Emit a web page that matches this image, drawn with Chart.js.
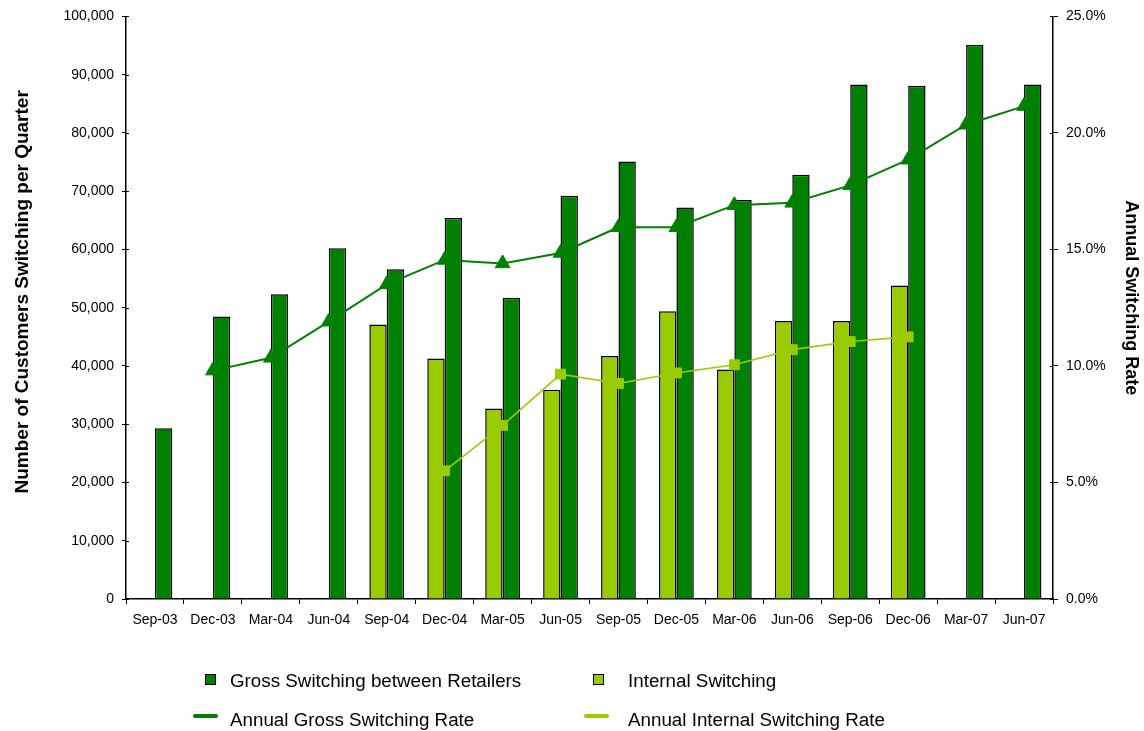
<!DOCTYPE html>
<html>
<head>
<meta charset="utf-8">
<script src="https://cdn.jsdelivr.net/npm/chart.js@4"></script>
<style>
  html, body { margin: 0; padding: 0; background: #fff; }
  #wrap { position: relative; width: 1144px; height: 731px; }
  #c { position: absolute; left: 0; top: 0; }
  .lg { position: absolute; font-family: "Liberation Sans", Arial, sans-serif; font-size: 18.8px; color: #000; white-space: nowrap; line-height: 20px; }
  .box { position: absolute; width: 9px; height: 9px; border: 1px solid #000; }
  .ln { position: absolute; height: 4px; border-radius: 2px; }
</style>
</head>
<body>
<div id="wrap">
  <canvas id="c" width="1144" height="731"></canvas>
  <div class="box" style="left:205px;top:674px;background:#008000"></div>
  <div class="lg" style="left:230px;top:671px">Gross Switching between Retailers</div>
  <div class="box" style="left:593px;top:674px;background:#99CC00"></div>
  <div class="lg" style="left:628px;top:671px">Internal Switching</div>
  <div class="ln" style="left:193px;top:714px;width:25px;background:#008000"></div>
  <div class="lg" style="left:230px;top:710px">Annual Gross Switching Rate</div>
  <div class="ln" style="left:584px;top:714px;width:25px;background:#99CC00"></div>
  <div class="lg" style="left:628px;top:710px">Annual Internal Switching Rate</div>
</div>
<script>
const labels = ['Sep-03','Dec-03','Mar-04','Jun-04','Sep-04','Dec-04','Mar-05','Jun-05','Sep-05','Dec-05','Mar-06','Jun-06','Sep-06','Dec-06','Mar-07','Jun-07'];
const grossSwitching = [29300, 48500, 52300, 60200, 56600, 65400, 51700, 69200, 75100, 67200, 68500, 72800, 88300, 88100, 95100, 88300];
const internalSwitching = [null, null, null, null, 47100, 41300, 32700, 35900, 41700, 49400, 39400, 47700, 47700, 53800, null, null];
const grossRate = [null, 9.8, 10.35, 11.9, 13.5, 14.55, 14.4, 14.85, 15.95, 15.95, 16.9, 17.0, 17.75, 18.85, 20.35, 21.15];
const internalRate = [null, null, null, null, null, 5.5, 7.45, 9.65, 9.25, 9.7, 10.05, 10.7, 11.05, 11.25, null, null];
const leftTitle = '      Number of Customers Switching per Quarter';
const rightTitle = 'Annual Switching Rate    ';

const DARK = '#008000', LIGHT = '#99CC00';
const FONT = '"Liberation Sans", Arial, sans-serif';

const innerTicks = {
  id: 'innerTicks',
  afterDraw(chart) {
    const ctx = chart.ctx;
    ctx.save();
    ctx.strokeStyle = '#000';
    ctx.lineWidth = 1;
    const y = chart.scales.y, y1 = chart.scales.y1;
    y.ticks.forEach((t, i) => {
      const py = Math.round(y.getPixelForTick(i)) + 0.5;
      ctx.beginPath(); ctx.moveTo(y.right, py); ctx.lineTo(y.right + 3, py); ctx.stroke();
    });
    y1.ticks.forEach((t, i) => {
      const py = Math.round(y1.getPixelForTick(i)) + 0.5;
      ctx.beginPath(); ctx.moveTo(y1.left, py); ctx.lineTo(y1.left - 3, py); ctx.stroke();
    });
    ctx.restore();
  }
};

new Chart(document.getElementById('c'), {
  data: {
    labels: labels,
    datasets: [
      { type: 'line', label: 'Annual Gross Switching Rate', data: grossRate, yAxisID: 'y1', order: 0,
        borderColor: DARK, backgroundColor: DARK, borderWidth: 2, pointStyle: 'triangle', pointRadius: 8.5,
        pointBorderWidth: 1, pointBorderColor: DARK, pointBackgroundColor: DARK, tension: 0, spanGaps: false },
      { type: 'line', label: 'Annual Internal Switching Rate', data: internalRate, yAxisID: 'y1', order: 0,
        borderColor: LIGHT, backgroundColor: LIGHT, borderWidth: 1.6, pointStyle: 'rect', pointRadius: 7,
        pointBorderWidth: 1, pointBorderColor: LIGHT, pointBackgroundColor: LIGHT, tension: 0 },
      { type: 'bar', label: 'Internal Switching', data: internalSwitching, yAxisID: 'y', order: 1,
        backgroundColor: LIGHT, borderColor: '#000', borderWidth: 1.5, barPercentage: 1, categoryPercentage: 0.6 },
      { type: 'bar', label: 'Gross Switching between Retailers', data: grossSwitching, yAxisID: 'y', order: 1,
        backgroundColor: DARK, borderColor: '#000', borderWidth: 1.5, barPercentage: 1, categoryPercentage: 0.6 }
    ]
  },
  options: {
    responsive: false,
    animation: false,
    layout: { padding: { top: 14, left: 0, right: 0, bottom: 0 } },
    plugins: { legend: { display: false }, tooltip: { enabled: false } },
    scales: {
      x: {
        offset: true,
        grid: { display: true, offset: true, drawOnChartArea: false, color: '#000', tickLength: 5, tickWidth: 1 },
        border: { color: '#000', width: 1.5 },
        ticks: { color: '#000', font: { family: FONT, size: 14 }, padding: 8, maxRotation: 0, autoSkip: false },
        afterFit(s) { s.height = 132; }
      },
      y: {
        position: 'left', min: 0, max: 100000,
        grid: { drawOnChartArea: false, color: '#000', tickLength: 4 },
        border: { color: '#000', width: 1.5 },
        ticks: { stepSize: 10000, color: '#000', font: { family: FONT, size: 14 }, padding: 8,
          callback: v => v.toLocaleString('en-US') },
        title: { display: true, text: leftTitle, color: '#000', font: { family: FONT, size: 19, weight: 'bold' }, padding: { top: 11, bottom: 0 } },
        afterFit(s) { s.width = 126; }
      },
      y1: {
        position: 'right', min: 0, max: 25,
        grid: { drawOnChartArea: false, color: '#000', tickLength: 5 },
        border: { color: '#000', width: 1.5 },
        ticks: { stepSize: 5, color: '#000', font: { family: FONT, size: 14 }, padding: 8,
          callback: v => v.toFixed(1) + '%' },
        title: { display: true, text: rightTitle, color: '#000', font: { family: FONT, size: 18, weight: 'bold' }, padding: { top: 2, bottom: 0 } },
        afterFit(s) { s.width = 91; }
      }
    }
  },
  plugins: [innerTicks]
});
</script>
</body>
</html>
